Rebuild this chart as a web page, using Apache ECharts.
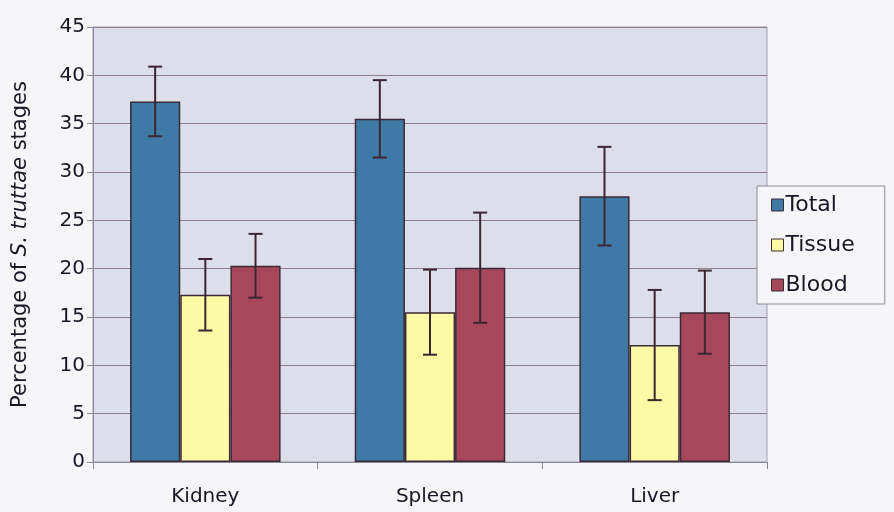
<!DOCTYPE html>
<html>
<head>
<meta charset="utf-8">
<script src="https://cdn.jsdelivr.net/npm/echarts@6/dist/echarts.min.js"></script>
<style>
  html, body { margin: 0; padding: 0; background: #f6f6f8; }
  #chart { width: 894px; height: 512px; }
</style>
</head>
<body>
<div id="chart"></div>
<script>
// 数据
var organs = ['Kidney', 'Spleen', 'Liver'];
var seriesNames = ['Total', 'Tissue', 'Blood'];
var totalVals = [37.3, 35.5, 27.5];
var tissueVals = [17.3, 15.5, 12.1];
var bloodVals = [20.3, 20.1, 15.5];
var totalErr = [3.6, 4.0, 5.1];
var tissueErr = [3.7, 4.4, 5.7];
var bloodErr = [3.3, 5.7, 4.3];
var yTicks = [0, 5, 10, 15, 20, 25, 30, 35, 40, 45];

var colors = ['#3f7aa6', '#fdfaa6', '#a6475a'];
var allVals = [totalVals, tissueVals, bloodVals];
var allErr = [totalErr, tissueErr, bloodErr];
var gapPct = 0.33;
var font = 'DejaVu Sans, Verdana, sans-serif';

var myChart = echarts.init(document.getElementById('chart'));

function errSeries(idx) {
    return {
        type: 'custom',
        name: seriesNames[idx] + ' err',
        z: 5,
        silent: true,
        data: organs.map(function (o, i) {
            return [i, allVals[idx][i], allErr[idx][i]];
        }),
        renderItem: function (params, api) {
            var band = api.size([1, 0])[0];
            var bw = band * (1 - gapPct) / 3;
            var c = api.coord([api.value(0), api.value(1)]);
            var x = c[0] + (idx - 1) * bw;
            var hi = api.coord([api.value(0), api.value(1) + api.value(2)])[1];
            var lo = api.coord([api.value(0), api.value(1) - api.value(2)])[1];
            var cap = 7;
            var st = { stroke: '#3b2632', lineWidth: 2 };
            return {
                type: 'group',
                children: [
                    { type: 'line', shape: { x1: x, y1: hi, x2: x, y2: lo }, style: st },
                    { type: 'line', shape: { x1: x - cap, y1: hi, x2: x + cap, y2: hi }, style: st },
                    { type: 'line', shape: { x1: x - cap, y1: lo, x2: x + cap, y2: lo }, style: st }
                ]
            };
        }
    };
}

var series = [];
seriesNames.forEach(function (n, idx) {
    series.push({
        name: n,
        type: 'bar',
        barGap: 0,
        barCategoryGap: (gapPct * 100) + '%',
        data: allVals[idx],
        itemStyle: { color: colors[idx], borderColor: '#3b2a36', borderWidth: 1.5 }
    });
});
seriesNames.forEach(function (n, idx) {
    series.push(errSeries(idx));
});

myChart.setOption({
    animation: false,
    textStyle: { fontFamily: font },
    grid: {
        left: 93, top: 27, right: 127, bottom: 50,
        show: true,
        backgroundColor: '#dcdfea',
        borderColor: '#a09cae',
        borderWidth: 1
    },
    legend: {
        data: seriesNames,
        orient: 'vertical',
        left: 757,
        top: 186,
        itemWidth: 12,
        itemHeight: 12,
        itemGap: 18,
        icon: 'rect',
        padding: [8, 30, 8, 14],
        borderColor: '#8c8c9a',
        borderWidth: 1,
        backgroundColor: '#f6f6f8',
        itemStyle: { borderColor: '#3b2a36', borderWidth: 1 },
        textStyle: { fontSize: 22, color: '#1a1626', fontFamily: font, padding: [0, 0, 0, -3] }
    },
    xAxis: {
        type: 'category',
        data: organs,
        axisLine: { lineStyle: { color: '#8a8898', width: 1 } },
        axisTick: { show: true, length: 7, lineStyle: { color: '#8a8898' } },
        axisLabel: { fontSize: 20, color: '#1a1626', margin: 25, fontFamily: font }
    },
    yAxis: {
        type: 'value',
        min: yTicks[0],
        max: yTicks[yTicks.length - 1],
        interval: 5,
        name: '{a|Percentage of }{b|S. truttae}{a| stages}',
        nameLocation: 'middle',
        nameGap: 62,
        nameTextStyle: {
            rich: {
                a: { fontSize: 21, color: '#1a1626', fontFamily: font },
                b: { fontSize: 21, color: '#1a1626', fontStyle: 'italic', fontFamily: font }
            }
        },
        axisLine: { show: true, lineStyle: { color: '#8a8898' } },
        axisTick: { show: true, length: 6, lineStyle: { color: '#8a8898' } },
        axisLabel: { fontSize: 20, color: '#1a1626', margin: 8, fontFamily: font },
        splitLine: { lineStyle: { color: '#8e7e8e', width: 1 } }
    },
    series: series
});
</script>
</body>
</html>
